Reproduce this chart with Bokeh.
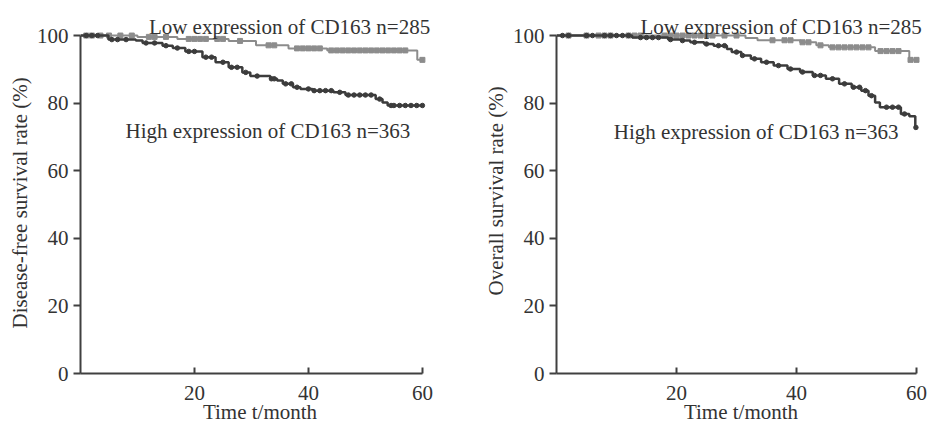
import numpy as np
from bokeh.plotting import figure
from bokeh.layouts import row
from bokeh.models import Range1d, FixedTicker, Label, Title
from bokeh.embed import file_html
from bokeh.resources import INLINE

# ---------------- data ----------------
# Disease-free survival
dfs_low_t = [0, 10, 17, 26, 30.8, 36.5, 43.3, 59.1, 60]
dfs_low_s = [100, 99.6, 99.0, 98.4, 97.1, 96.2, 95.6, 92.8, 92.8]
dfs_low_cens = [1, 2, 3.5, 5, 7, 9, 12, 13, 15, 19, 20, 21, 22, 24, 25, 28, 33, 34,
                38, 39, 40, 41, 42, 44, 45, 46, 47, 48, 49, 50, 51, 52, 53, 54, 55,
                56, 57, 60]

dfs_high_t = [0, 4.9, 9.7, 10.9, 14.4, 16.2, 18.4, 21.4, 23.7, 26.0, 28.4, 29.8,
              33.3, 34.5, 35.5, 37.3, 38.6, 40.7, 44.4, 46.5, 51.8, 53.0, 53.9, 60]
dfs_high_s = [100, 98.8, 98.5, 97.8, 97.0, 96.3, 95.3, 93.6, 92.1, 90.6, 89.1, 88.0,
              87.2, 86.7, 85.7, 84.7, 84.2, 83.7, 83.2, 82.4, 81.2, 80.2, 79.3, 79.3]
dfs_high_cens = [1, 2, 3, 5.5, 6.5, 8, 11.5, 13, 15, 17, 19, 20, 22, 23, 25, 26.5,
                 27.5, 29, 31, 33.5, 34, 36, 37, 38, 40, 41, 42, 43, 44, 45.5, 47, 48,
                 49, 50, 51, 52.5, 54.5, 55, 56, 57, 58, 59, 60]

# Overall survival
os_low_t = [0, 31.5, 33.5, 40.6, 43.3, 45.4, 53.1, 58.8, 60]
os_low_s = [100, 99.3, 98.6, 98.0, 97.1, 96.5, 95.4, 92.8, 92.8]
os_low_cens = [2, 5, 7, 8, 9, 12, 13, 14, 18, 19, 20, 21, 22, 23, 24, 25, 26, 28, 30,
               36, 38, 39, 41, 42, 44, 46, 47, 48, 49, 50, 51, 52, 54, 55, 56, 57, 59, 60]

os_high_t = [0, 12.6, 18.6, 20.7, 22.3, 24.6, 26.2, 28.4, 29.2, 30.8, 32.4, 34.1,
             36.2, 38.5, 40.6, 42.7, 44.9, 47.1, 49.2, 50.8, 52.0, 53.1, 53.9, 57.4,
             58.8, 59.8, 60]
os_high_s = [100, 99.4, 98.8, 98.5, 98.0, 97.5, 97.0, 96.0, 95.1, 94.1, 93.1, 92.1,
             91.1, 90.1, 89.2, 88.2, 87.2, 85.7, 84.7, 83.7, 82.2, 80.2, 78.8, 76.8,
             76.1, 72.8, 72.8]
os_high_cens = [1, 2, 5, 6, 8, 9, 10, 11, 12, 14, 15, 16, 17, 19, 21, 23, 25, 27, 28,
                30, 31, 33, 35, 37, 39, 41, 43, 44, 46, 48, 49.5, 50.5, 51.5, 52.5, 55,
                56, 57, 58, 59.9]

x_ticks = [20, 40, 60]
y_ticks = [0, 20, 40, 60, 80, 100]

low_label = "Low expression of CD163 n=285"
high_label = "High expression of CD163 n=363"
x_title = "Time t/month"
dfs_title = "Disease-free survival rate (%)"
os_title = "Overall survival rate (%)"

# ---------------- styling ----------------
FONT = "Liberation Serif"
FS = "21px"
TXT = "#333333"
AX = "#404040"
LOW_C = "#8c8c8c"
HIGH_C = "#3c3c3c"


def censor_y(t, s, c):
    t = np.asarray(t, float)
    s = np.asarray(s, float)
    idx = np.searchsorted(t, np.asarray(c, float), side="right") - 1
    return s[idx]


def make_panel(xmax, frame_w, ytitle, title_offset, lo_t, lo_s, lo_c,
               hi_t, hi_s, hi_c, lo_pos, hi_pos, border_left, border_right):
    p = figure(x_range=Range1d(0, xmax), y_range=Range1d(0, 108),
               frame_width=frame_w, frame_height=365,
               output_backend="svg", toolbar_location=None,
               min_border_left=border_left, min_border_right=border_right,
               min_border_top=8, min_border_bottom=0)
    p.grid.visible = False
    p.outline_line_color = None
    p.background_fill_color = "white"
    p.border_fill_color = "white"

    p.step(lo_t, lo_s, mode="after", line_color=LOW_C, line_width=2)
    p.scatter(lo_c, censor_y(lo_t, lo_s, lo_c), marker="square", size=5,
              fill_color=LOW_C, line_color=LOW_C)
    p.step(hi_t, hi_s, mode="after", line_color=HIGH_C, line_width=2.5)
    p.scatter(hi_c, censor_y(hi_t, hi_s, hi_c), marker="circle", size=4.5,
              fill_color=HIGH_C, line_color=HIGH_C)

    for ax in (p.xaxis[0], p.yaxis[0]):
        ax.axis_line_color = AX
        ax.axis_line_width = 2
        ax.major_tick_line_color = AX
        ax.major_tick_line_width = 2
        ax.minor_tick_line_color = None
        ax.major_label_text_font = FONT
        ax.major_label_text_font_size = FS
        ax.major_label_text_color = TXT
        ax.axis_label_text_font = FONT
        ax.axis_label_text_font_size = FS
        ax.axis_label_text_font_style = "normal"
        ax.axis_label_text_color = TXT

    xa = p.xaxis[0]
    xa.ticker = FixedTicker(ticks=x_ticks)
    xa.bounds = (0, 60)
    xa.major_tick_in = 6
    xa.major_tick_out = 0
    xa.major_label_standoff = 12
    xa.axis_label = x_title
    xa.axis_label_standoff = -3

    ya = p.yaxis[0]
    ya.ticker = FixedTicker(ticks=y_ticks)
    ya.bounds = (0, 100)
    ya.major_tick_in = 0
    ya.major_tick_out = 7
    ya.major_label_standoff = 5

    p.add_layout(Title(text=ytitle, align="left", offset=title_offset,
                       standoff=4, text_font=FONT, text_font_size=FS,
                       text_font_style="normal", text_color=TXT), "left")

    for (lx, ly), txt in ((lo_pos, low_label), (hi_pos, high_label)):
        p.add_layout(Label(x=lx, y=ly, text=txt, text_font=FONT,
                           text_font_size=FS, text_color=TXT,
                           text_baseline="alphabetic", text_align="left"))
    return p


p1 = make_panel(63, 359, dfs_title, 45, dfs_low_t, dfs_low_s, dfs_low_cens,
                dfs_high_t, dfs_high_s, dfs_high_cens,
                (12.0, 102.5), (7.9, 71.7), 80, 40)
p2 = make_panel(61.5, 369, os_title, 78, os_low_t, os_low_s, os_low_cens,
                os_high_t, os_high_s, os_high_cens,
                (14.0, 102.5), (9.55, 71.4), 72, 10)

layout = row(p1, p2)
open("out.html", "w").write(file_html(layout, INLINE))
